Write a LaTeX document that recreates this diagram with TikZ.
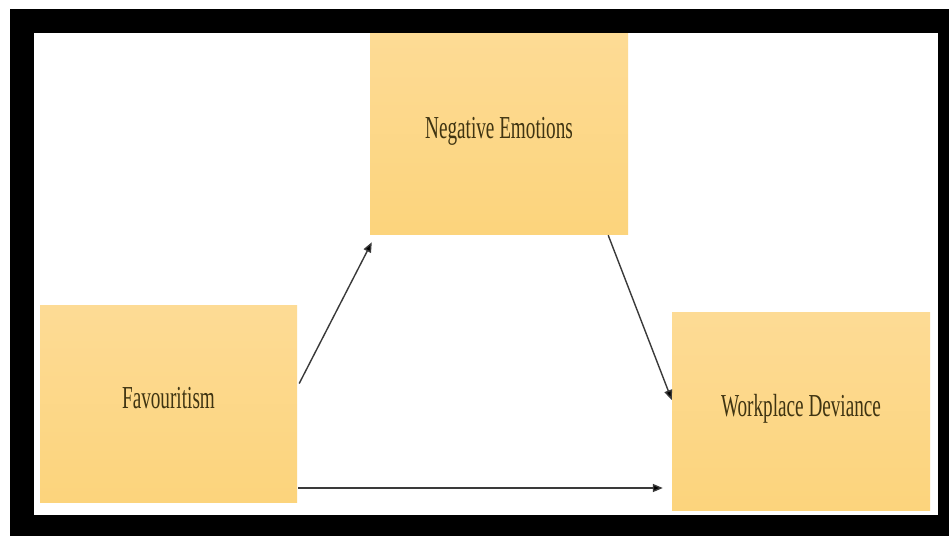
\documentclass[tikz,border=0pt]{standalone}
\usepackage{fontspec}
\setmainfont{Liberation Serif}
\usetikzlibrary{arrows.meta}
\definecolor{boxtop}{HTML}{FDDB95}
\definecolor{boxbot}{HTML}{FCD47C}
\definecolor{inkbrown}{HTML}{3F3412}
\definecolor{linegray}{HTML}{3A3A3A}
\newcommand{\boxlabel}[1]{\raisebox{11pt}{\scalebox{0.6}[1]{\fontsize{32}{36}\selectfont #1}}}
\tikzset{
  conceptbox/.style={rectangle, inner sep=0pt, shading=axis, top color=boxtop,
    bottom color=boxbot, text=inkbrown, anchor=center},
  arr/.style={draw=linegray, line width=1.4pt,
    -{Triangle[length=10pt,width=8pt,fill=black]}}
}
\begin{document}
\begin{tikzpicture}[x=1pt,y=-1pt]
  % page and black frame
  \fill[white] (0,0) rectangle (949,536);
  \useasboundingbox (0,0) rectangle (949,536);
  \fill[black] (10,9) rectangle (949,536);
  \fill[white] (34,33) rectangle (938,515);

  % concept boxes
  \node[conceptbox, minimum width=258pt, minimum height=201pt] (neg) at (499,133.5)
    {\boxlabel{Negative Emotions}};
  \node[conceptbox, minimum width=257pt, minimum height=197pt] (fav) at (168.5,403.5)
    {\boxlabel{Favouritism}};
  \node[conceptbox, minimum width=258pt, minimum height=198pt] (wd) at (801,411)
    {\boxlabel{Workplace Deviance}};

  % paths between the concepts
  \draw[arr] ([xshift=2pt,yshift=20pt]fav.east) -- ([xshift=2pt,yshift=-8pt]neg.south west);
  \draw[arr] ([xshift=-20pt,yshift=-1pt]neg.south east) -- ([yshift=11pt]wd.west);
  \coordinate (h1) at ([xshift=1pt,yshift=-84.5pt]fav.east);
  \coordinate (h2) at ([xshift=-9pt]wd.west);
  \draw[arr] (h1) -- (h1 -| h2);
\end{tikzpicture}
\end{document}
